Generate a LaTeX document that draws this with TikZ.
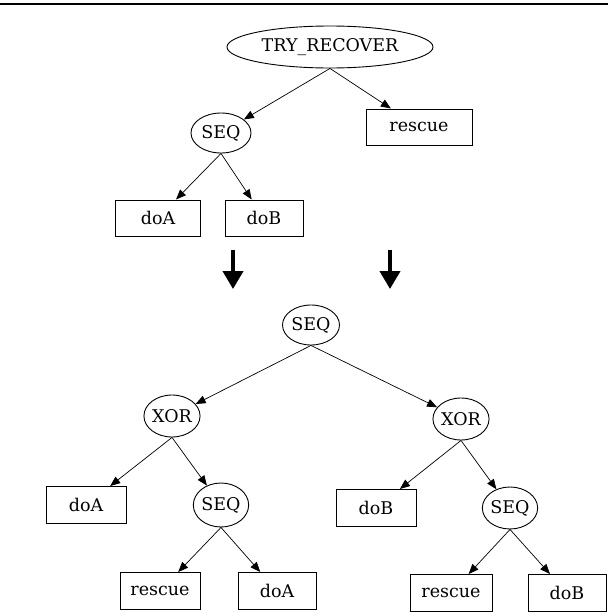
\documentclass[tikz,border=0pt]{standalone}
\usepackage{fontspec}
\setmainfont{DejaVu Serif}
\usepackage{tikz}
\usetikzlibrary{shapes.geometric,arrows.meta}

\tikzset{
  opnode/.style={ellipse, draw=black, line width=0.9pt, inner sep=0pt, minimum width=56pt, minimum height=42pt},
  actbox/.style={rectangle, draw=black, line width=1pt, inner sep=0pt, minimum width=80pt, minimum height=37pt},
  treeedge/.style={black, line width=0.7pt, -{Triangle[length=10pt,width=8pt]}},
  rewrite/.style={black, line width=4pt, -{Triangle[length=18pt,width=20pt]}}
}

\begin{document}
\begin{tikzpicture}[x=1pt,y=-1pt,font=\fontsize{17.5}{21}\selectfont]
                \useasboundingbox (0,0) rectangle (608,613);
                % Rule on top
                \draw[black, line width=1.5pt] (0,4) -- (608,4);

                % Tree before the rewrite
                \node[opnode, minimum width=206pt] (try) at (330,47) {TRY\_RECOVER};
                \node[opnode, minimum width=60pt, minimum height=40pt] (seqa) at (221,133) {SEQ};
                \node[actbox, minimum width=106pt, minimum height=36pt] (resa) at (419,127) {rescue};
                \node[actbox, minimum width=85pt, minimum height=36pt] (doaa) at (158,218) {doA};
                \node[actbox, minimum width=78pt, minimum height=36pt] (doba) at (264,218) {doB};
                \draw[treeedge] (try.south) -- (seqa);
                \draw[treeedge] (try.south) -- (resa);
                \draw[treeedge] (seqa.south) -- (doaa);
                \draw[treeedge] (seqa.south) -- (doba);

                % Rewrite arrows
                \coordinate (rwla) at (233,250);
                \coordinate (rwlb) at (233,289);
                \coordinate (rwra) at (390,250);
                \coordinate (rwrb) at (390,289);
                \draw[rewrite] (rwla) -- (rwlb);
                \draw[rewrite] (rwra) -- (rwrb);

                % Tree after the rewrite
                \node[opnode, minimum width=57pt, minimum height=40pt] (seqb) at (311,325) {SEQ};
                \node[opnode] (xorl) at (172,416) {XOR};
                \node[opnode] (xorr) at (461,419) {XOR};
                \draw[treeedge] (seqb.south) -- (xorl);
                \draw[treeedge] (seqb.south) -- (xorr);

                % Left branch
                \node[actbox] (doal) at (86,505) {doA};
                \node[opnode, minimum width=55pt, minimum height=44pt] (seql) at (221,505) {SEQ};
                \node[actbox] (resl) at (160,591) {rescue};
                \node[actbox, minimum width=78pt] (doalb) at (277,591) {doA};
                \draw[treeedge] (xorl.south) -- (doal);
                \draw[treeedge] (xorl.south) -- (seql);
                \draw[treeedge] (seql.south) -- (resl);
                \draw[treeedge] (seql.south) -- (doalb);

                % Right branch
                \node[actbox] (dobr) at (376,508) {doB};
                \node[opnode, minimum width=55pt] (seqr) at (510,508) {SEQ};
                \node[actbox, minimum width=82pt] (resr) at (451,593) {rescue};
                \node[actbox, minimum width=78pt] (dobrb) at (567,593) {doB};
                \draw[treeedge] (xorr.south) -- (dobr);
                \draw[treeedge] (xorr.south) -- (seqr);
                \draw[treeedge] (seqr.south) -- (resr);
                \draw[treeedge] (seqr.south) -- (dobrb);
\end{tikzpicture}
\end{document}
